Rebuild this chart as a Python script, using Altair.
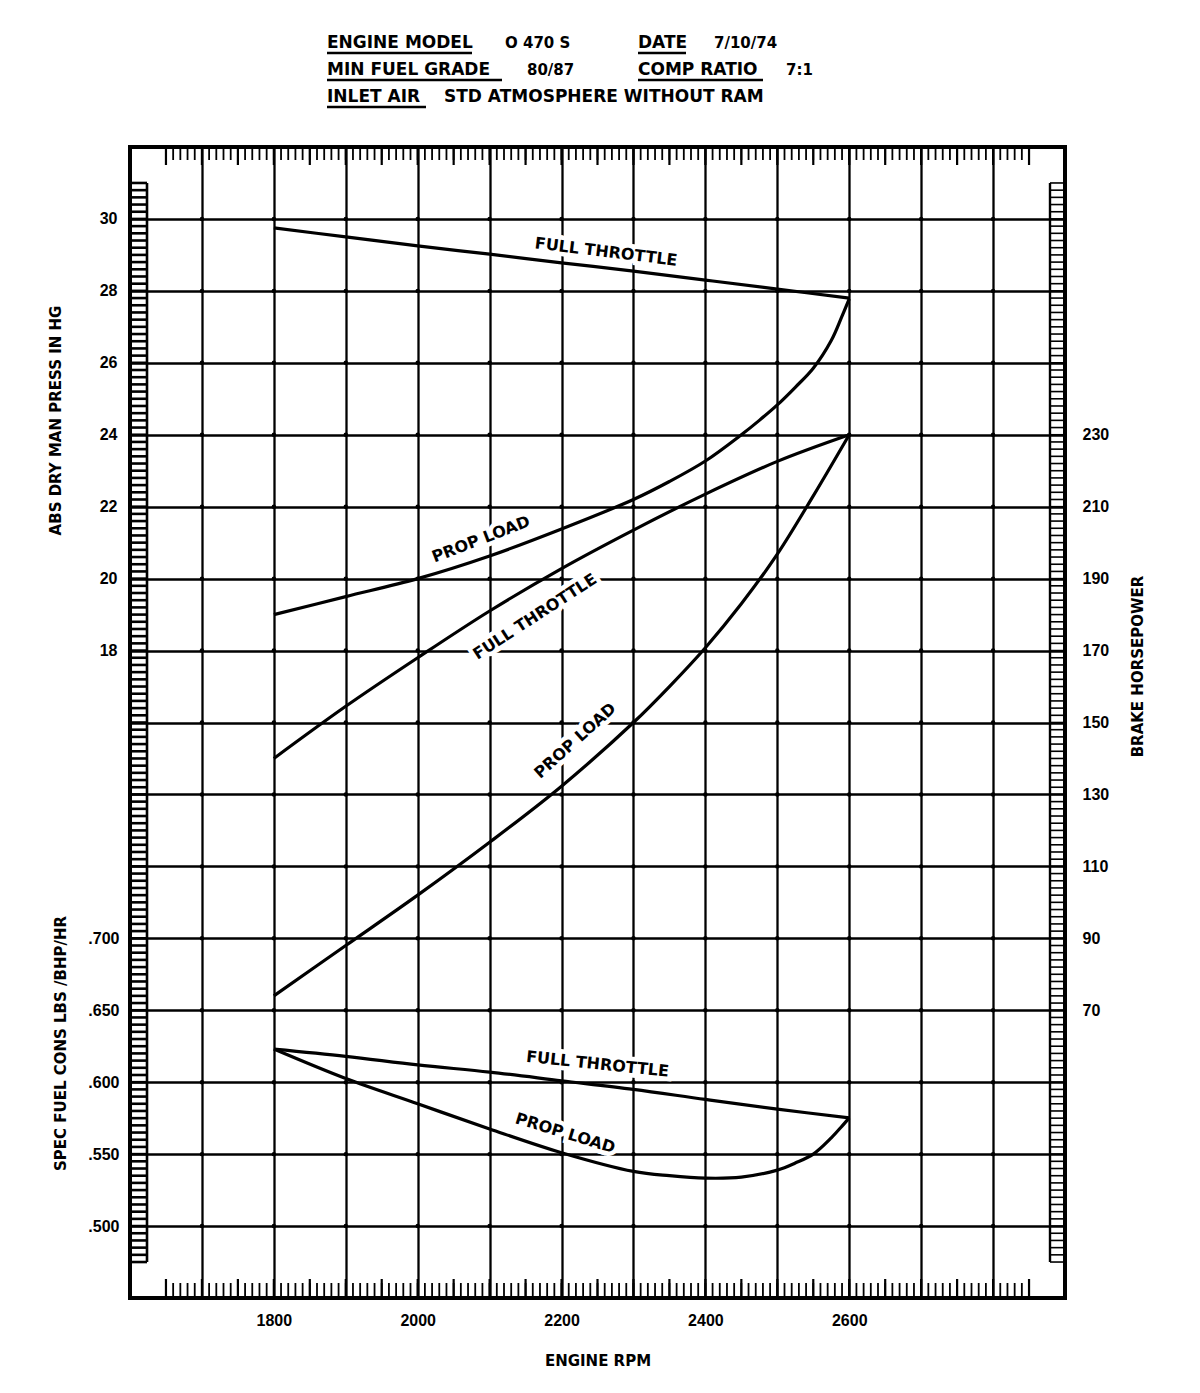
import altair as alt
import pandas as pd

# ---------------- data ----------------
rpm = [1800, 1900, 2000, 2100, 2200, 2300, 2400, 2500, 2600]

# manifold pressure, in Hg
map_full_throttle = [29.75, 29.5, 29.25, 29.02, 28.78, 28.55, 28.3, 28.05, 27.8]
map_prop_rpm = [1800, 1900, 2000, 2100, 2200, 2300, 2350, 2400, 2450, 2475, 2500, 2525, 2550, 2575, 2590, 2600]
map_prop_load = [19.0, 19.5, 20.0, 20.63, 21.38, 22.2, 22.7, 23.27, 24.0, 24.4, 24.83, 25.32, 25.85, 26.62, 27.3, 27.78]

# brake horsepower
hp_full_throttle = [140, 154.5, 168, 181, 192.8, 203.5, 213.5, 222.6, 230]
hp_prop_rpm = [1800, 1900, 2000, 2100, 2200, 2300, 2350, 2400, 2450, 2500, 2550, 2600]
hp_prop_load = [74, 88, 102, 116.7, 132.3, 150, 160, 170.8, 183, 196.8, 213, 230]

# specific fuel consumption, lbs/bhp/hr
sfc_full_throttle = [0.623, 0.618, 0.612, 0.607, 0.601, 0.595, 0.588, 0.5813, 0.5752]
sfc_prop_rpm = [1800, 1900, 2000, 2100, 2200, 2300, 2350, 2400, 2450, 2500, 2525, 2550, 2575, 2590, 2600]
sfc_prop_load = [0.623, 0.6025, 0.585, 0.5675, 0.551, 0.538, 0.535, 0.5333, 0.534, 0.5389, 0.5438, 0.550, 0.5613, 0.5695, 0.5752]

# curve annotations (anchor in data units)
map_label_text = ["FULL THROTTLE", "PROP LOAD"]
map_label_rpm = [2262, 2088]
map_label_val = [29.08, 21.09]
hp_label_text = ["FULL THROTTLE", "PROP LOAD"]
hp_label_rpm = [2163, 2219]
hp_label_val = [179.4, 144.9]
sfc_label_text = ["FULL THROTTLE", "PROP LOAD"]
sfc_label_rpm = [2250, 2205]
sfc_label_val = [0.6125, 0.5645]

# axis ticks
x_grid = [1700, 1800, 1900, 2000, 2100, 2200, 2300, 2400, 2500, 2600, 2700, 2800]
map_grid = [2, 4, 6, 8, 10, 12, 14, 16, 18, 20, 22, 24, 26, 28, 30]
hp_ticks = [70, 90, 110, 130, 150, 170, 190, 210, 230]
sfc_ticks = [0.500, 0.550, 0.600, 0.650, 0.700]

# ruler graduations (decoration)
ruler_map = [round(1 + 0.2 * i, 1) for i in range(151)]
ruler_rpm = [1650 + 10 * i for i in range(121)]

# header text
header_line1 = ["ENGINE MODEL", "O 470 S", "DATE", "7/10/74"]
header_line2 = ["MIN FUEL GRADE", "80/87", "COMP RATIO", "7:1"]
header_line3 = ["INLET AIR", "STD ATMOSPHERE WITHOUT RAM"]

# ---------------- styles ----------------
W, H = 935, 1151
LBL_FONT = "Liberation Sans"
TXT_FONT = "DejaVu Sans"
ANG_MAP = [7, 339]
ANG_HP = [327, 318]
ANG_SFC = [6, 17]
CURVE_LABEL_SIZE = 16

x_scale = alt.Scale(domain=[1600, 2900], nice=False, zero=False)
map_scale = alt.Scale(domain=[0, 32], nice=False, zero=False)
hp_scale = alt.Scale(domain=[-10, 310], nice=False, zero=False)
sfc_scale = alt.Scale(domain=[0.45, 1.25], nice=False, zero=False)

common_axis = dict(ticks=False, domain=False, labelFont=LBL_FONT, labelFontSize=16,
                   labelFontWeight="bold", labelColor="black", labelFlush=False,
                   titleFont=TXT_FONT, titleFontSize=15, titleFontWeight="bold",
                   titleColor="black")

x_axis = alt.Axis(values=x_grid, grid=True, gridColor="black", gridWidth=2.3, gridOpacity=1,
                  format="d",
                  labelExpr="(datum.value % 200 == 0 && datum.value >= 1800 && datum.value <= 2600) ? datum.label : ''",
                  labelPadding=14, title="ENGINE RPM", titleY=55, titleBaseline="top",
                  **common_axis)
map_axis = alt.Axis(orient="left", values=map_grid, grid=True, gridColor="black", gridWidth=2.3,
                    gridOpacity=1, format="d",
                    labelExpr="datum.value >= 18 ? datum.label : ''", labelPadding=13,
                    title="ABS DRY MAN PRESS IN HG", titleX=-75, titleY=273, titleAngle=270,
                    titleAlign="center", titleBaseline="middle", **common_axis)
sfc_axis = alt.Axis(orient="left", values=sfc_ticks, grid=False,
                    labelExpr="substring(format(datum.value, '.3f'), 1)", labelPadding=11,
                    title="SPEC FUEL CONS LBS /BHP/HR", titleX=-70, titleY=896, titleAngle=270,
                    titleAlign="center", titleBaseline="middle", **common_axis)
hp_axis = alt.Axis(orient="right", values=hp_ticks, grid=False, format="d", labelPadding=17,
                   title="BRAKE HORSEPOWER", titleX=72, titleY=519, titleAngle=270,
                   titleAlign="center", titleBaseline="middle", **common_axis)


def X(field="rpm"):
    return alt.X(f"{field}:Q", scale=x_scale, axis=x_axis)


def Ymap(field="v"):
    return alt.Y(f"{field}:Q", scale=map_scale, axis=map_axis)


def Yhp(field="v"):
    return alt.Y(f"{field}:Q", scale=hp_scale, axis=hp_axis)


def Ysfc(field="v"):
    return alt.Y(f"{field}:Q", scale=sfc_scale, axis=sfc_axis)


def curves(r1, v1, r2, v2, yfun):
    df = pd.DataFrame({"rpm": r1 + r2, "v": v1 + v2,
                       "s": ["full throttle"] * len(r1) + ["prop load"] * len(r2)})
    return alt.Chart(df).mark_line(color="black", strokeWidth=3.2,
                                   interpolate="catmull-rom").encode(
        x=X(), y=yfun(), detail="s:N")


def labels(texts, rpms, vals, angles, yfun):
    halos, fronts = [], []
    for t, r, v, a in zip(texts, rpms, vals, angles):
        df = pd.DataFrame({"rpm": [r], "v": [v], "t": [t]})
        base = alt.Chart(df)
        halos.append(base.mark_text(angle=a, font=TXT_FONT, fontSize=CURVE_LABEL_SIZE,
                                    fontWeight="bold", align="center", baseline="middle",
                                    color="white", stroke="white", strokeWidth=9).encode(
            x=X(), y=yfun(), text="t:N"))
        fronts.append(base.mark_text(angle=a, font=TXT_FONT, fontSize=CURVE_LABEL_SIZE,
                                     fontWeight="bold", align="center", baseline="middle",
                                     color="black").encode(x=X(), y=yfun(), text="t:N"))
    return halos, fronts


# ---------------- MAP group (carries the grid) ----------------
df_ruler_map = pd.DataFrame({"v": ruler_map})
df_ruler_span = pd.DataFrame({"a": [ruler_map[0]], "b": [ruler_map[-1]]})
left_rungs = alt.Chart(df_ruler_map).mark_rule(color="black", strokeWidth=2.6).encode(
    y=Ymap(), x=alt.value(0), x2=alt.value(17))
left_spine = alt.Chart(df_ruler_span).mark_rule(color="black", strokeWidth=2.6).encode(
    y=Ymap("a"), y2="b:Q", x=alt.value(17))
right_rungs = alt.Chart(df_ruler_map).mark_rule(color="black", strokeWidth=1.6).encode(
    y=Ymap(), x=alt.value(W - 15), x2=alt.value(W))
right_spine = alt.Chart(df_ruler_span).mark_rule(color="black", strokeWidth=2.4).encode(
    y=Ymap("a"), y2="b:Q", x=alt.value(W - 15))

df_dots = pd.DataFrame([(r, m) for r in x_grid for m in map_grid], columns=["rpm", "v"])
dots = alt.Chart(df_dots).mark_point(filled=True, size=20, color="black", opacity=1).encode(
    x=X(), y=Ymap())

mh, mf = labels(map_label_text, map_label_rpm, map_label_val, ANG_MAP, Ymap)
map_group = alt.layer(*mh, dots,
                      curves(rpm, map_full_throttle, map_prop_rpm, map_prop_load, Ymap),
                      *mf, left_rungs, left_spine, right_rungs, right_spine)

# ---------------- HP group ----------------
hh, hf = labels(hp_label_text, hp_label_rpm, hp_label_val, ANG_HP, Yhp)
hp_group = alt.layer(*hh, curves(rpm, hp_full_throttle, hp_prop_rpm, hp_prop_load, Yhp), *hf)

# ---------------- SFC group ----------------
sh, sf = labels(sfc_label_text, sfc_label_rpm, sfc_label_val, ANG_SFC, Ysfc)
sfc_group = alt.layer(*sh, curves(rpm, sfc_full_throttle, sfc_prop_rpm, sfc_prop_load, Ysfc), *sf)

# ---------------- top / bottom rulers ----------------
df_rr = pd.DataFrame({"rpm": ruler_rpm})
top_ruler = alt.Chart(df_rr).mark_rule(color="black", strokeWidth=1.8).encode(
    x=alt.X("rpm:Q", scale=x_scale, axis=x_axis), y=alt.value(0),
    y2=alt.value(13))
top_long = alt.Chart(df_rr).transform_filter("datum.rpm % 50 == 0").mark_rule(
    color="black", strokeWidth=2.2).encode(
    x=alt.X("rpm:Q", scale=x_scale, axis=x_axis), y=alt.value(0), y2=alt.value(18))
bot_ruler = alt.Chart(df_rr).mark_rule(color="black", strokeWidth=1.8).encode(
    x=alt.X("rpm:Q", scale=x_scale, axis=x_axis), y=alt.value(H - 15), y2=alt.value(H))
bot_long = alt.Chart(df_rr).transform_filter("datum.rpm % 50 == 0").mark_rule(
    color="black", strokeWidth=2.2).encode(
    x=alt.X("rpm:Q", scale=x_scale, axis=x_axis), y=alt.value(H - 19), y2=alt.value(H))

# ---------------- header ----------------
one = pd.DataFrame({"k": [0]})


def htext(s, x, y, size=17, weight="bold"):
    return alt.Chart(one).mark_text(text=s, align="left", baseline="alphabetic", font=TXT_FONT,
                                    fontSize=size, fontWeight=weight, color="black").encode(
        x=alt.value(x), y=alt.value(y))


def uline(x1, x2, y):
    return alt.Chart(one).mark_rule(color="black", strokeWidth=2.4).encode(
        x=alt.value(x1), x2=alt.value(x2), y=alt.value(y))


header = alt.layer(
    htext(header_line1[0], 197, -99), uline(197, 342, -94),
    htext(header_line1[1], 375, -99, 15),
    htext(header_line1[2], 508, -99), uline(508, 556, -94),
    htext(header_line1[3], 584, -99, 15),
    htext(header_line2[0], 197, -72), uline(197, 372, -67),
    htext(header_line2[1], 397, -72, 15),
    htext(header_line2[2], 508, -72), uline(508, 633, -67),
    htext(header_line2[3], 656, -72, 15),
    htext(header_line3[0], 197, -45), uline(197, 296, -40),
    htext(header_line3[1], 314, -45),
)

chart = alt.layer(
    map_group, hp_group, sfc_group, top_ruler, top_long, bot_ruler, bot_long, header
).resolve_scale(y="independent").properties(
    width=W, height=H,
    padding={"left": 122, "top": 139, "right": 120, "bottom": 80},
    autosize=alt.AutoSizeParams(type="none"),
    background="white",
).configure_view(stroke="black", strokeWidth=4)

chart.save("out.html", embed_options={"renderer": "svg", "actions": False})
